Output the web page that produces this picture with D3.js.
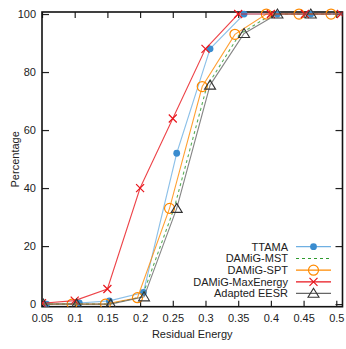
<!DOCTYPE html>
<html>
<head>
<meta charset="utf-8">
<script src="https://cdn.jsdelivr.net/npm/d3@7"></script>
<style>
  body { margin: 0; background: #fff; }
  svg text { font-family: "Liberation Sans", Arial, sans-serif; font-size: 11px; fill: #222; }
</style>
</head>
<body>
<svg id="chart" width="346" height="349"></svg>
<script>
// values
const xTicks = [0.05, 0.1, 0.15, 0.2, 0.25, 0.3, 0.35, 0.4, 0.45, 0.5];
const yTicks = [0, 20, 40, 60, 80, 100];

const ttamaX = [0.057, 0.107, 0.153, 0.205, 0.256, 0.307, 0.359, 0.41, 0.461, 0.512];
const ttamaY = [0, 0.4, 1.1, 4, 52, 88, 100, 100, 100, 100];
const mstX = [0.053, 0.103, 0.153, 0.203, 0.252, 0.302, 0.352, 0.402, 0.452, 0.502];
const mstY = [0, 0, 0, 2.5, 33, 75, 93, 100, 100, 100];
const sptX = [0.044, 0.096, 0.147, 0.196, 0.245, 0.295, 0.345, 0.393, 0.443, 0.492];
const sptY = [0, 0, 0, 2.2, 33, 75, 93, 100, 100, 100];
const maxX = [0.05, 0.1, 0.15, 0.2, 0.25, 0.3, 0.35, 0.4, 0.452, 0.507];
const maxY = [0.3, 1.2, 5.2, 40, 64, 88, 100, 100, 100, 100];
const eesrX = [0.052, 0.103, 0.155, 0.206, 0.256, 0.307, 0.359, 0.41, 0.461, 0.512];
const eesrY = [0, 0, 0, 2.5, 33, 75.5, 93.3, 100, 100, 100];

const seriesNames = ['TTAMA', 'DAMiG-MST', 'DAMiG-SPT', 'DAMiG-MaxEnergy', 'Adapted EESR'];

const series = [
  { name: seriesNames[0], xs: ttamaX, ys: ttamaY, line: '#6fb0e2', mark: '#3a8ccf', shape: 'dot' },
  { name: seriesNames[1], xs: mstX, ys: mstY, line: '#2e9a2e', mark: '#2e9a2e', shape: 'none', dash: '3,3' },
  { name: seriesNames[2], xs: sptX, ys: sptY, line: '#ff8a00', mark: '#ff8a00', shape: 'circle' },
  { name: seriesNames[3], xs: maxX, ys: maxY, line: '#e8151c', mark: '#e8151c', shape: 'cross' },
  { name: seriesNames[4], xs: eesrX, ys: eesrY, line: '#666666', mark: '#333333', shape: 'tri' }
];

const svg = d3.select('#chart');
const pLeft = 42, pRight = 342.5, pTop = 12, pBottom = 306.7;

const x = d3.scaleLinear().domain([0.05, 0.5095]).range([pLeft, pRight]);
const y = d3.scaleLinear().domain([-0.9, 100.7]).range([pBottom, pTop]);

svg.append('defs').append('clipPath').attr('id', 'plot')
  .append('rect')
  .attr('x', pLeft).attr('y', pTop - 6)
  .attr('width', pRight - pLeft).attr('height', pBottom - pTop + 6);

// axes with inward ticks on all four sides
const fmt = d => String(d);
svg.append('g')
  .attr('transform', 'translate(0,' + pBottom + ')')
  .call(d3.axisBottom(x).tickValues(xTicks).tickFormat(fmt).tickSizeInner(-6).tickSizeOuter(0).tickPadding(8))
  .call(g => g.select('.domain').remove());
svg.append('g')
  .attr('transform', 'translate(0,' + pTop + ')')
  .call(d3.axisTop(x).tickValues(xTicks).tickFormat('').tickSizeInner(-6).tickSizeOuter(0))
  .call(g => g.select('.domain').remove());
svg.append('g')
  .attr('transform', 'translate(' + pLeft + ',0)')
  .call(d3.axisLeft(y).tickValues(yTicks).tickFormat(fmt).tickSizeInner(-7).tickSizeOuter(0).tickPadding(6))
  .call(g => g.select('.domain').remove());
svg.append('g')
  .attr('transform', 'translate(' + pRight + ',0)')
  .call(d3.axisRight(y).tickValues(yTicks).tickFormat('').tickSizeInner(-7).tickSizeOuter(0))
  .call(g => g.select('.domain').remove());

svg.selectAll('.tick line').attr('stroke', '#222').attr('stroke-width', 1.2);
svg.selectAll('.tick text').style('font-size', '11px').attr('fill', '#222');

svg.append('rect')
  .attr('x', pLeft).attr('y', pTop)
  .attr('width', pRight - pLeft).attr('height', pBottom - pTop)
  .attr('fill', 'none').attr('stroke', '#111').attr('stroke-width', 1.6);

// axis titles
svg.append('text')
  .attr('x', (pLeft + pRight) / 2).attr('y', 338)
  .attr('text-anchor', 'middle')
  .text('Residual Energy');
svg.append('text')
  .attr('transform', 'translate(19,' + (pTop + pBottom) / 2 + ') rotate(-90)')
  .attr('text-anchor', 'middle')
  .text('Percentage');

function drawMarker(g, shape, color, cx, cy) {
  if (shape === 'dot') {
    g.append('circle').attr('cx', cx).attr('cy', cy).attr('r', 3.4).attr('fill', color);
  } else if (shape === 'circle') {
    g.append('circle').attr('cx', cx).attr('cy', cy).attr('r', 5)
      .attr('fill', 'none').attr('stroke', color).attr('stroke-width', 1.2);
  } else if (shape === 'cross') {
    g.append('path')
      .attr('d', `M${cx - 4},${cy - 4}L${cx + 4},${cy + 4}M${cx - 4},${cy + 4}L${cx + 4},${cy - 4}`)
      .attr('stroke', color).attr('stroke-width', 1.2);
  } else if (shape === 'tri') {
    g.append('path')
      .attr('d', `M${cx},${cy - 5}L${cx + 5.5},${cy + 4}L${cx - 5.5},${cy + 4}Z`)
      .attr('fill', 'none').attr('stroke', color).attr('stroke-width', 1.1);
  }
}

const plot = svg.append('g').attr('clip-path', 'url(#plot)');
const line = d3.line().x(d => x(d[0])).y(d => y(d[1]));

series.forEach(s => {
  const pts = s.xs.map((v, i) => [v, s.ys[i]]);
  plot.append('path')
    .datum(pts)
    .attr('fill', 'none')
    .attr('stroke', s.line)
    .attr('stroke-opacity', 0.8)
    .attr('stroke-width', 1.1)
    .attr('stroke-dasharray', s.dash || null)
    .attr('d', line);
  const mg = plot.append('g');
  pts.filter(p => p[0] >= 0.05 && p[0] <= 0.5095)
    .forEach(p => drawMarker(mg, s.shape, s.mark, x(p[0]), y(p[1])));
});

// legend
const legend = svg.append('g');
const legendY = [246.7, 258.5, 270.2, 281.8, 293.3];
series.forEach((s, i) => {
  const ly = legendY[i];
  legend.append('text')
    .attr('x', 288).attr('y', ly).attr('dy', '0.35em')
    .attr('text-anchor', 'end')
    .text(s.name);
  legend.append('line')
    .attr('x1', 296).attr('x2', 331).attr('y1', ly).attr('y2', ly)
    .attr('stroke', s.line).attr('stroke-width', 1.2)
    .attr('stroke-dasharray', s.dash || null);
  drawMarker(legend, s.shape, s.mark, 313.5, ly);
});
</script>
</body>
</html>
